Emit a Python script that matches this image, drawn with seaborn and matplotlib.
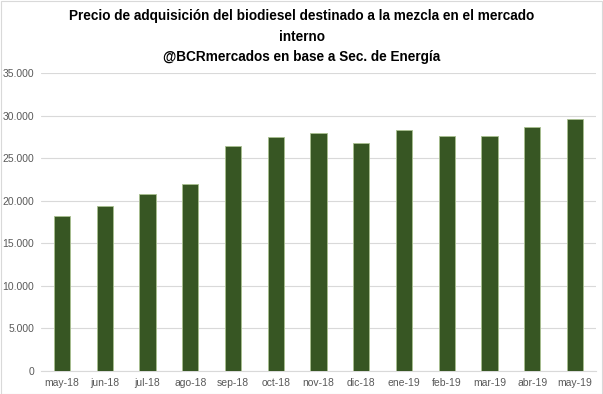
import matplotlib
matplotlib.use('Agg')
import matplotlib.pyplot as plt
import matplotlib.ticker as mticker
import seaborn as sns
import pandas as pd
import numpy as np

# Data
months = ['may-18', 'jun-18', 'jul-18', 'ago-18', 'sep-18', 'oct-18', 'nov-18',
          'dic-18', 'ene-19', 'feb-19', 'mar-19', 'abr-19', 'may-19']
prices = [18150, 19420, 20830, 21960, 26400, 27450, 28000,
          26750, 28270, 27560, 27560, 28660, 29640]

title = ('Precio de adquisición del biodiesel destinado a la mezcla en el mercado\n'
         'interno\n@BCRmercados en base a Sec. de Energía')

sns.set_style('white')
plt.rcParams['font.family'] = ['Liberation Sans', 'DejaVu Sans']

df = pd.DataFrame({'mes': months, 'precio': prices})

fig = plt.figure(figsize=(6.03, 3.94), dpi=100)
ax = fig.add_axes([0.0673, 0.0584, 0.9217, 0.7563])

sns.barplot(data=df, x='mes', y='precio', color='#375623', width=0.38,
            edgecolor='#a9c08f', linewidth=0.6, saturation=1, ax=ax, zorder=3)

ax.set_ylim(0, 35000)
ax.set_xlim(-0.5, len(months) - 0.5)
ax.set_yticks(np.arange(0, 35001, 5000))
ax.yaxis.set_major_formatter(mticker.FuncFormatter(lambda v, p: f'{int(v):,}'.replace(',', '.')))
ax.grid(axis='y', color='#d9d9d9', linewidth=0.8, zorder=0)
ax.set_xlabel('')
ax.set_ylabel('')

for s in ['top', 'right', 'left']:
    ax.spines[s].set_visible(False)
ax.spines['bottom'].set_color('#d9d9d9')
ax.spines['bottom'].set_linewidth(0.8)

# tick marks between categories on x axis
ax.set_xticks(np.arange(-0.5, len(months), 1), minor=True)
ax.tick_params(axis='x', which='minor', length=4, color='#d9d9d9', width=0.8)
ax.tick_params(axis='x', which='major', length=0, labelsize=7.5, labelcolor='#595959', pad=5)
ax.tick_params(axis='y', length=0, labelsize=7.5, labelcolor='#595959', pad=4.5)

fig.text(0.5, 0.977, title, ha='center', va='top', fontsize=9.8, fontweight='bold',
         linespacing=1.6, color='black')

# light frame around the chart
fig.patches.append(plt.Rectangle((0.001, 0.001), 0.997, 0.997, transform=fig.transFigure,
                                 fill=False, edgecolor='#d9d9d9', linewidth=0.8))

fig.savefig('out.png', dpi=100)
plt.close('all')
